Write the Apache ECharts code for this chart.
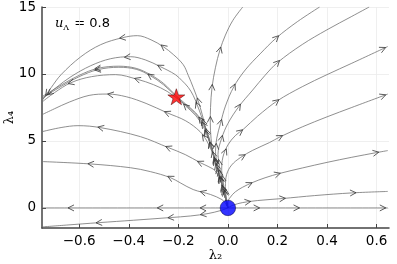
<!DOCTYPE html>
<html><head><meta charset="utf-8">
<script src="https://cdn.jsdelivr.net/npm/echarts@6/dist/echarts.min.js"></script>
<style>html,body{margin:0;padding:0;background:#fff}#c{width:397px;height:264px}</style>
</head><body><div id="c"></div>
<script>
// axis ticks
const xTicks = [-0.6, -0.4, -0.2, 0, 0.2, 0.4, 0.6];
const yTicks = [0, 5, 10, 15];
// fixed points
const uvPoint = [[0, 0]];
const starPoint = [[-0.208, 8.3]];
// streamlines (flow direction)
const sA = [[0,0],[-0.012,0.9],[-0.028,2.0],[-0.045,3.1],[-0.06,4.1],[-0.068,5.2],[-0.071,6.4],[-0.07,7.5],[-0.064,9.0],[-0.05,10.5],[-0.032,11.8],[-0.01,12.9],[0.02,14.0],[0.06,15.0]];
const sB = [[0,0],[-0.012,0.9],[-0.026,2.0],[-0.04,3.1],[-0.05,4.2],[-0.045,5.2],[-0.03,6.3],[-0.01,7.6],[0.024,9.05],[0.07,10.3],[0.13,11.5],[0.196,12.7],[0.28,13.9],[0.37,15.0]];
const sC = [[0,0],[-0.01,0.9],[-0.022,2.0],[-0.034,3.1],[-0.04,4.0],[-0.025,5.2],[0.0,6.3],[0.044,7.56],[0.1,8.8],[0.15,9.9],[0.2,10.85],[0.3,12.2],[0.4,13.3],[0.5,14.3],[0.57,15.0]];
const sD = [[0,0],[-0.008,0.8],[-0.018,1.8],[-0.025,2.8],[-0.02,3.8],[0.0,4.7],[0.03,5.4],[0.064,5.9],[0.12,6.85],[0.2,8.0],[0.3,9.05],[0.4,9.95],[0.5,10.8],[0.645,12.05]];
const sE = [[0,0],[-0.006,0.7],[-0.01,1.6],[-0.005,2.5],[0.015,3.2],[0.05,3.75],[0.1,4.3],[0.168,4.88],[0.21,5.3],[0.3,6.05],[0.4,6.8],[0.5,7.5],[0.645,8.5]];
const sF = [[0,0],[0.0,0.4],[0.01,0.8],[0.03,1.2],[0.06,1.55],[0.1,1.9],[0.15,2.25],[0.21,2.58],[0.3,2.98],[0.4,3.4],[0.5,3.78],[0.6,4.13],[0.645,4.28]];
const sG = [[0,0],[0.02,0.2],[0.06,0.4],[0.12,0.55],[0.22,0.7],[0.35,0.92],[0.5,1.12],[0.645,1.23]];
const sR0 = [[0,0],[0.645,0]];
const sL0 = [[0,0],[-0.75,0]];
const sL9 = [[0,0],[-0.03,-0.2],[-0.08,-0.42],[-0.15,-0.6],[-0.232,-0.72],[-0.38,-0.92],[-0.52,-1.1],[-0.65,-1.28],[-0.75,-1.42]];
const sL7 = [[0,0],[-0.01,0.35],[-0.024,0.62],[-0.07,1.0],[-0.14,1.37],[-0.19,1.85],[-0.232,2.26],[-0.313,2.71],[-0.393,3.0],[-0.553,3.28],[-0.75,3.46]];
const sL6 = [[0,0],[-0.012,0.9],[-0.028,2.0],[-0.05,2.75],[-0.08,3.1],[-0.112,3.38],[-0.172,3.98],[-0.24,4.5],[-0.353,5.32],[-0.513,5.99],[-0.605,6.14],[-0.673,6.0],[-0.75,5.69]];
const sL5 = [[0,0],[-0.012,0.9],[-0.028,2.0],[-0.045,3.1],[-0.062,4.1],[-0.085,5.0],[-0.112,5.69],[-0.17,6.5],[-0.245,7.1],[-0.33,7.8],[-0.41,8.3],[-0.485,8.5],[-0.56,8.4],[-0.64,7.9],[-0.7,7.4],[-0.75,6.96]];
const sL4 = [[0,0],[-0.012,0.9],[-0.028,2.0],[-0.045,3.1],[-0.062,4.2],[-0.078,5.2],[-0.095,6.1],[-0.12,6.8],[-0.152,7.4],[-0.2,8.1],[-0.245,8.7],[-0.3,9.2],[-0.365,9.6],[-0.453,9.95],[-0.55,9.8],[-0.633,9.35],[-0.7,8.6],[-0.75,7.9]];
const sL3 = [[0,0],[-0.012,0.9],[-0.028,2.0],[-0.045,3.1],[-0.062,4.2],[-0.08,5.2],[-0.1,6.1],[-0.13,6.9],[-0.17,7.6],[-0.208,8.3],[-0.26,9.2],[-0.313,9.87],[-0.37,10.35],[-0.44,10.5],[-0.525,10.32],[-0.6,9.8],[-0.67,9.1],[-0.75,8.2]];
const sL3b = [[0,0],[-0.012,0.9],[-0.027,2.0],[-0.044,3.1],[-0.06,4.2],[-0.077,5.3],[-0.098,6.3],[-0.13,7.1],[-0.17,7.75],[-0.21,8.4],[-0.26,9.3],[-0.313,9.95],[-0.37,10.42],[-0.44,10.58],[-0.525,10.42],[-0.6,9.9],[-0.67,9.2],[-0.75,8.3]];
const sL2 = [[0,0],[-0.012,0.9],[-0.028,2.0],[-0.045,3.1],[-0.062,4.2],[-0.078,5.2],[-0.092,6.0],[-0.108,6.9],[-0.124,7.7],[-0.14,8.4],[-0.16,9.0],[-0.185,9.5],[-0.212,9.95],[-0.273,10.55],[-0.333,11.05],[-0.393,11.29],[-0.473,11.14],[-0.553,10.62],[-0.633,9.8],[-0.693,8.98],[-0.75,8.1]];
const sL1 = [[0,0],[-0.012,0.9],[-0.028,2.0],[-0.045,3.1],[-0.062,4.2],[-0.077,5.2],[-0.09,6.0],[-0.104,7.0],[-0.12,8.0],[-0.14,9.0],[-0.16,9.9],[-0.18,10.69],[-0.22,11.45],[-0.261,12.04],[-0.31,12.55],[-0.365,12.86],[-0.425,12.71],[-0.513,12.19],[-0.593,11.29],[-0.673,9.95],[-0.713,8.98],[-0.75,8.0]];
// arrow positions on each streamline
const aA = [[-0.02,1.4],[-0.05,3.6],[-0.068,6.6],[-0.064,9.0],[-0.032,11.8]];
const aB = [[-0.035,2.6],[-0.05,4.6],[-0.03,6.4],[0.024,9.05],[0.196,12.7]];
const aC = [[-0.015,1.1],[-0.036,3.4],[-0.025,5.2],[0.044,7.56],[0.2,10.85]];
const aD = [[-0.02,2.2],[-0.01,4.2],[0.05,5.7],[0.196,7.95],[0.625,11.9]];
const aE = [[-0.008,1.2],[0.06,3.85],[0.21,5.3],[0.625,8.4]];
const aF = [[0.088,1.75],[0.2,2.53],[0.597,4.13]];
const aG = [[0.08,0.45],[0.22,0.7],[0.505,1.14]];
const aR0 = [[0.116,0],[0.277,0],[0.625,0]];
const aL0 = [[-0.1,0],[-0.273,0],[-0.633,0]];
const aL9 = [[-0.1,-0.38],[-0.23,-0.72],[-0.52,-1.1]];
const aL7 = [[-0.1,1.15],[-0.232,2.26],[-0.553,3.28]];
const aL6 = [[-0.03,2.1],[-0.112,3.38],[-0.24,4.5],[-0.513,5.99]];
const aL5 = [[-0.02,1.2],[-0.05,3.5],[-0.095,5.3],[-0.245,7.1],[-0.473,8.5]];
const aL4 = [[-0.045,3.1],[-0.07,4.7],[-0.1,6.2],[-0.365,9.6],[-0.633,9.35]];
const aL3 = [[-0.03,2.1],[-0.06,4.0],[-0.09,5.6],[-0.17,7.6],[-0.313,9.87],[-0.525,10.32]];
const aL3b = [[-0.11,6.6],[-0.525,10.42]];
const aL2 = [[-0.02,1.5],[-0.04,2.8],[-0.07,4.7],[-0.1,6.4],[-0.124,7.7],[-0.273,10.55],[-0.405,11.22],[-0.72,8.6]];
const aL1 = [[-0.03,2.2],[-0.05,3.4],[-0.085,5.7],[-0.12,8.0],[-0.26,12.04],[-0.425,12.71],[-0.73,8.6]];

const streams = [sA,sB,sC,sD,sE,sF,sG,sR0,sL0,sL9,sL7,sL6,sL5,sL4,sL3,sL3b,sL2,sL1];
const arrowSets = [aA,aB,aC,aD,aE,aF,aG,aR0,aL0,aL9,aL7,aL6,aL5,aL4,aL3,aL3b,aL2,aL1];

const arrowData = [];
arrowSets.forEach((set, i) => set.forEach(p => arrowData.push([i, p[0], p[1]])));

const fmtX = v => {
  const r = Math.round(v * 10) / 10;
  return (r < 0 ? '\u2212' : '') + Math.abs(r).toFixed(1);
};

const chart = echarts.init(document.getElementById('c'), null, {renderer: 'canvas'});
const series = streams.map(s => ({
  type: 'line', data: s, showSymbol: false, smooth: 0.35, silent: true,
  lineStyle: {color: '#727272', width: 0.8}, z: 2, animation: false
}));
series.push({
  type: 'custom', data: arrowData, encode: {x: 1, y: 2}, z: 3, silent: true, animation: false,
  renderItem: function (params, api) {
    const li = api.value(0);
    const p = api.coord([api.value(1), api.value(2)]);
    const pts = streams[li].map(q => api.coord(q));
    let best = null, bd = Infinity;
    for (let k = 0; k < pts.length - 1; k++) {
      const a = pts[k], b = pts[k + 1];
      const dx = b[0] - a[0], dy = b[1] - a[1];
      const l2 = dx * dx + dy * dy || 1;
      let t = ((p[0] - a[0]) * dx + (p[1] - a[1]) * dy) / l2;
      t = Math.max(0, Math.min(1, t));
      const qx = a[0] + t * dx, qy = a[1] + t * dy;
      const d = (qx - p[0]) ** 2 + (qy - p[1]) ** 2;
      if (d < bd) { bd = d; best = {x: qx, y: qy, dx: dx, dy: dy}; }
    }
    const len = Math.hypot(best.dx, best.dy) || 1;
    const ux = best.dx / len, uy = best.dy / len;
    const L = 6, W = 3;
    const tip = [best.x + ux * 3, best.y + uy * 3];
    return {
      type: 'polyline',
      shape: {points: [
        [tip[0] - ux * L - uy * W, tip[1] - uy * L + ux * W],
        tip,
        [tip[0] - ux * L + uy * W, tip[1] - uy * L - ux * W]
      ]},
      style: {stroke: '#333', fill: null, lineWidth: 0.8}
    };
  }
});
series.push({
  type: 'scatter', data: starPoint, symbol: 'path://M50,0 L61.8,35.1 L98.1,35.1 L68.8,56.7 L79.4,91.0 L50,70 L20.6,91.0 L31.2,56.7 L1.9,35.1 L38.2,35.1 Z',
  symbolSize: [17, 16], itemStyle: {color: '#ff0000', borderColor: '#400000', borderWidth: 0.6}, z: 5, silent: true, animation: false
});
series.push({
  type: 'scatter', data: uvPoint, symbol: 'circle', symbolSize: 15.5,
  itemStyle: {color: '#0000ff', borderColor: '#000030', borderWidth: 0.6}, z: 5, silent: true, animation: false
});

chart.setOption({
  animation: false,
  backgroundColor: '#ffffff',
  grid: {left: 42, right: 8, top: 7, bottom: 36, containLabel: false, outerBoundsMode: 'none'},
  xAxis: {
    type: 'value', min: -0.75, max: 0.65, splitNumber: 7,
    name: '\u03bb\u2082', nameLocation: 'middle', nameGap: 21, nameMoveOverlap: false,
    nameTextStyle: {fontFamily: 'DejaVu Serif', fontSize: 13, color: '#000', verticalAlign: 'top'},
    axisLine: {show: true, onZero: false, lineStyle: {color: '#444', width: 1.5}},
    axisTick: {show: true, inside: true, length: 4, customValues: xTicks, lineStyle: {color: '#444'}},
    axisLabel: {customValues: xTicks, formatter: fmtX, fontFamily: 'DejaVu Sans', fontSize: 13.5, color: '#000', margin: 6},
    splitLine: {show: true, customValues: xTicks, lineStyle: {color: '#ebebeb', width: 0.8}}
  },
  yAxis: {
    type: 'value', min: -1.5, max: 15, splitNumber: 3,
    name: '\u03bb\u2084', nameLocation: 'middle', nameGap: 26, nameRotate: 90, nameMoveOverlap: false,
    nameTextStyle: {fontFamily: 'DejaVu Serif', fontSize: 13, color: '#000'},
    axisLine: {show: true, onZero: false, lineStyle: {color: '#444', width: 1.5}},
    axisTick: {show: true, inside: true, length: 4, customValues: yTicks, lineStyle: {color: '#444'}},
    axisLabel: {customValues: yTicks, formatter: v => String(v), fontFamily: 'DejaVu Sans', fontSize: 13.5, color: '#000', margin: 6},
    splitLine: {show: true, customValues: yTicks, lineStyle: {color: '#ebebeb', width: 0.8}}
  },
  graphic: [{
    type: 'text', left: 55, top: 17, silent: true,
    style: {
      text: '{u|u}{s|\u039b}{t| = 0.8}',
      rich: {
        u: {fontFamily: 'DejaVu Serif', fontStyle: 'italic', fontSize: 13, fill: '#000', lineHeight: 17, verticalAlign: 'middle'},
        s: {fontFamily: 'DejaVu Serif', fontSize: 8, fill: '#000', lineHeight: 17, verticalAlign: 'bottom', padding: [6, 1, 0, 0]},
        t: {fontFamily: 'DejaVu Sans', fontSize: 13, fill: '#000', lineHeight: 17, verticalAlign: 'middle'}
      }
    }
  }],
  series: series
});
</script></body></html>
